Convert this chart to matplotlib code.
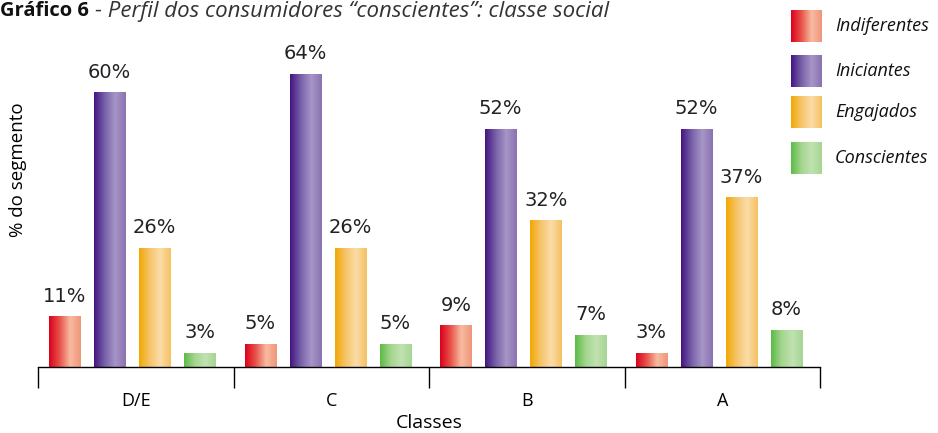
import numpy as np
import matplotlib
matplotlib.use("Agg")
import matplotlib.pyplot as plt
from matplotlib.colors import LinearSegmentedColormap

plt.rcParams['font.family'] = ['Open Sans', 'DejaVu Sans']

# dados
classes = ["D/E", "C", "B", "A"]
series = ["Indiferentes", "Iniciantes", "Engajados", "Conscientes"]
indiferentes = [11, 5, 9, 3]
iniciantes = [60, 64, 52, 52]
engajados = [26, 26, 32, 37]
conscientes = [3, 5, 7, 8]
valores = [indiferentes, iniciantes, engajados, conscientes]

# gradientes horizontais de cada serie
gradientes = [
    ["#dc001c", "#e8524a", "#f7bba0", "#f0957a"],
    ["#421480", "#7760a8", "#a795c7", "#8a72b0"],
    ["#f2a800", "#f6c46a", "#fbdca8", "#f5c060"],
    ["#5bbb45", "#a4d58e", "#c0e2b0", "#a6d593"],
]

fig = plt.figure(figsize=(9.38, 4.33), dpi=100)
ax = fig.add_axes([38 / 938, 66 / 433, 782 / 938, 320 / 433])

n = len(classes)
largura = 0.16
passo = 0.23
grad = np.linspace(0, 1, 256).reshape(1, -1)

for j, (nome, vals, cores) in enumerate(zip(series, valores, gradientes)):
    cmap = LinearSegmentedColormap.from_list(nome, cores)
    for i, v in enumerate(vals):
        x0 = i + (j - 1.5) * passo - largura / 2 - 0.018
        ax.imshow(grad, cmap=cmap, aspect="auto", extent=[x0, x0 + largura, 0, v],
                  interpolation="bilinear", zorder=2)
        ax.text(x0 + largura / 2, v + 2.4, f"{v}%", ha="center", va="bottom",
                fontsize=14, color="#222222", family="DejaVu Sans")

ax.set_xlim(-0.5, n - 0.5)
ax.set_ylim(0, 70)

for s in ["top", "right", "left"]:
    ax.spines[s].set_visible(False)
ax.spines["bottom"].set_linewidth(1.0)
ax.set_yticks([])
ax.set_xticks(range(n))
ax.set_xticklabels(classes, fontsize=13)
ax.tick_params(axis="x", which="major", length=0, pad=18)
ax.set_xticks(np.arange(-0.5, n, 1), minor=True)
ax.tick_params(axis="x", which="minor", length=15, width=1.0, direction="out")

ax.set_xlabel("Classes", fontsize=14, labelpad=3)
fig.text(18 / 938, 1 - 170 / 433, "% do segmento", rotation=90, ha="center",
         va="center", fontsize=13.5)

# titulo
t1 = fig.text(0.0, 1 - 1 / 433, "Gráfico 6", fontsize=14.5, fontweight="bold",
              ha="left", va="top", color="#111111")
fig.canvas.draw()
bb = t1.get_window_extent()
fig.text((bb.x1 + 6) / 938, 1 - 1 / 433,
         "- Perfil dos consumidores \u201cconscientes\u201d: classe social",
         fontsize=16, style="italic", ha="left", va="top", color="#333333")

# legenda manual
leg_y = [26, 71, 112, 158]
for nome, cores, yc in zip(series, gradientes, leg_y):
    lax = fig.add_axes([791 / 938, 1 - (yc + 16) / 433, 31 / 938, 32 / 433])
    cmap = LinearSegmentedColormap.from_list(nome + "_leg", cores)
    lax.imshow(grad, cmap=cmap, aspect="auto", interpolation="bilinear")
    lax.axis("off")
    fig.text(835 / 938, 1 - yc / 433, nome, fontsize=13, style="italic",
             ha="left", va="center", color="#111111")

fig.savefig("out.png", dpi=100)
